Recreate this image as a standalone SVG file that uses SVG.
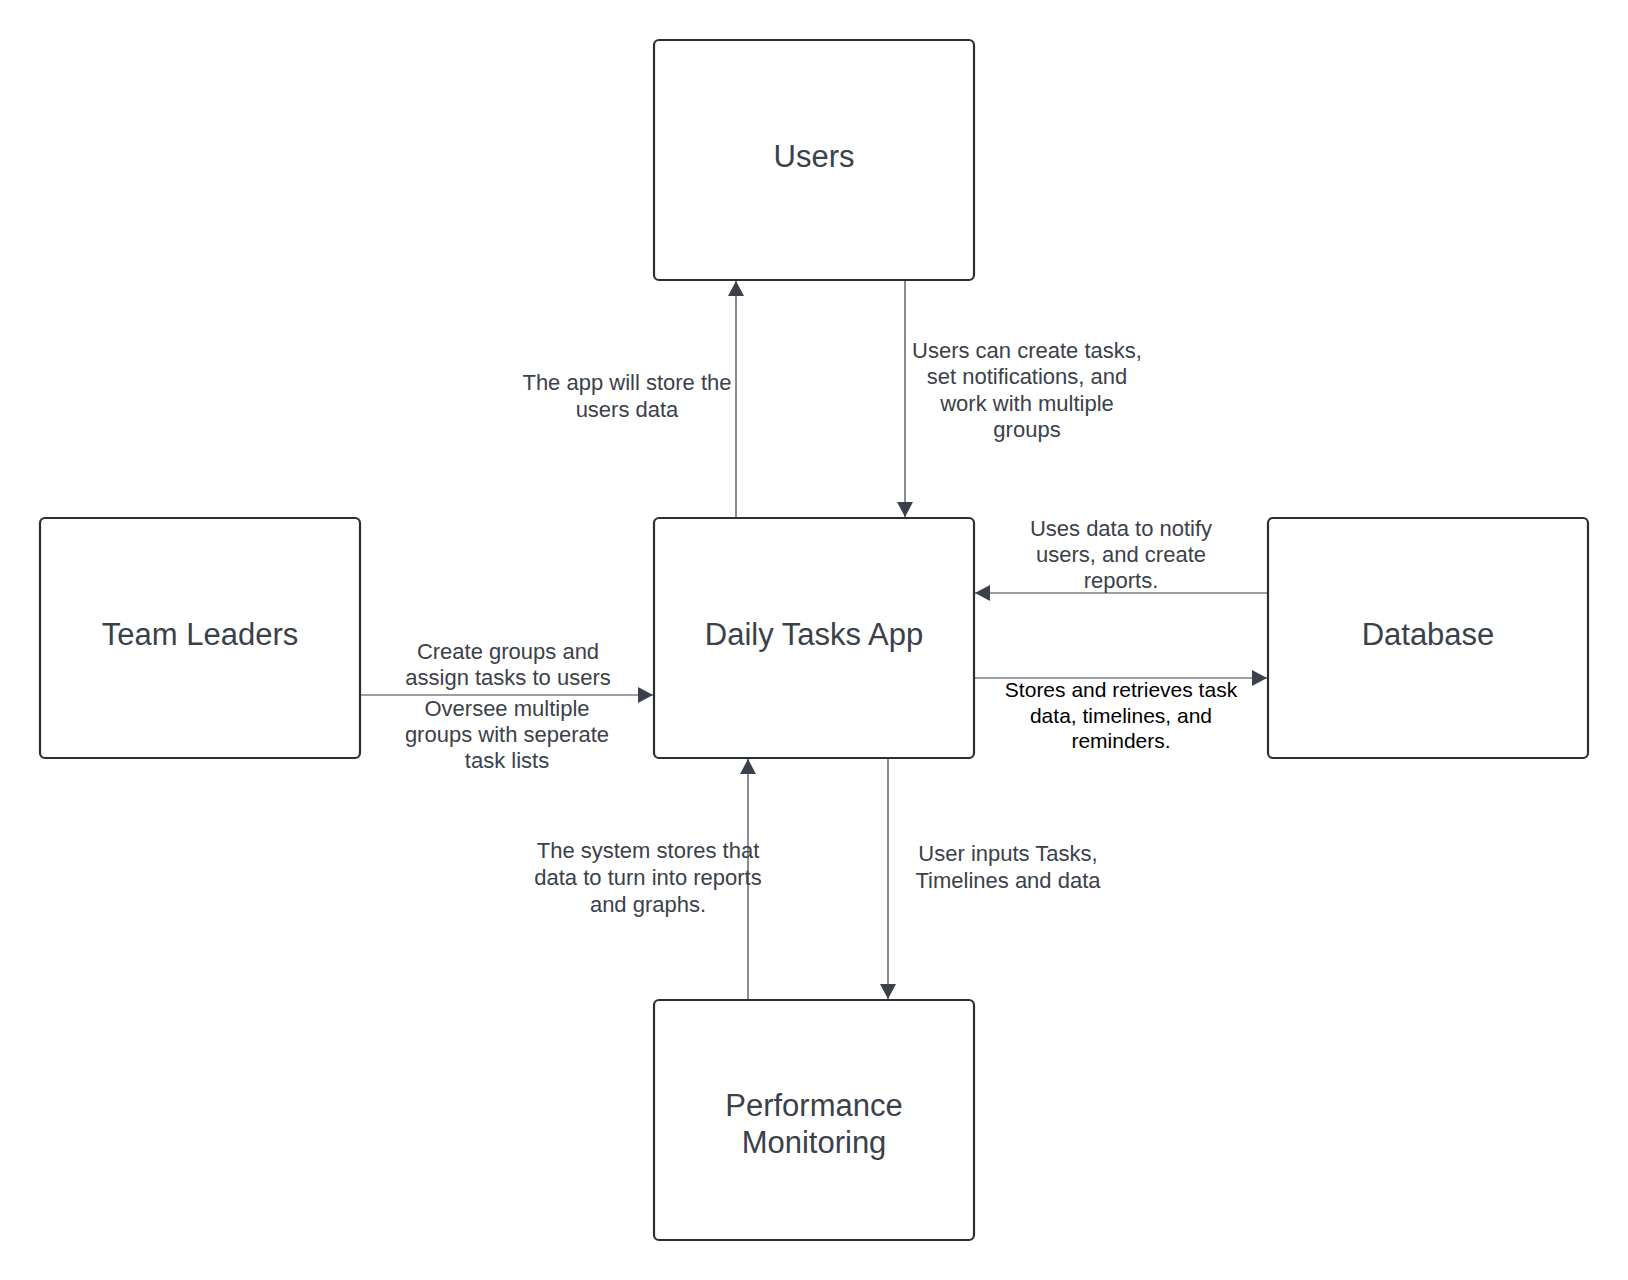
<svg xmlns="http://www.w3.org/2000/svg" width="1628" height="1280" viewBox="0 0 1628 1280">
<style>
.box{fill:#ffffff;stroke:#2a2e35;stroke-width:2.2}
.nt{font-family:"Liberation Sans",Arial,sans-serif;font-size:31px;fill:#3a414a;text-anchor:middle}
.lt{font-family:"Liberation Sans",Arial,sans-serif;font-size:22px;fill:#3a414a;text-anchor:middle}
.lb{font-family:"Liberation Sans",Arial,sans-serif;font-size:21px;fill:#000000;text-anchor:middle}
.cn{fill:none;stroke:#3a414a;stroke-width:1.2}
</style>
<defs>
<marker id="ah" markerUnits="userSpaceOnUse" markerWidth="16" markerHeight="16" refX="15" refY="8" orient="auto">
<path d="M0,0 L15,8 L0,16 Z" fill="#3a414a"/>
</marker>
</defs>
<rect width="1628" height="1280" fill="#ffffff"/>
<g id="connectors">
<line class="cn" x1="736" y1="518" x2="736" y2="281" marker-end="url(#ah)"/>
<line class="cn" x1="905" y1="280" x2="905" y2="517" marker-end="url(#ah)"/>
<line class="cn" x1="1268" y1="593" x2="975" y2="593" marker-end="url(#ah)"/>
<line class="cn" x1="974" y1="678" x2="1267" y2="678" marker-end="url(#ah)"/>
<line class="cn" x1="360" y1="695" x2="653" y2="695" marker-end="url(#ah)"/>
<line class="cn" x1="748" y1="1000" x2="748" y2="759" marker-end="url(#ah)"/>
<line class="cn" x1="888" y1="758" x2="888" y2="999" marker-end="url(#ah)"/>
</g>
<g id="labels">
<text class="lt" x="627" y="390">The app will store the</text>
<text class="lt" x="627" y="417">users data</text>
<text class="lt" x="1027" y="358">Users can create tasks,</text>
<text class="lt" x="1027" y="384">set notifications, and</text>
<text class="lt" x="1027" y="411">work with multiple</text>
<text class="lt" x="1027" y="437">groups</text>
<text class="lt" x="1121" y="536">Uses data to notify</text>
<text class="lt" x="1121" y="562">users, and create</text>
<text class="lt" x="1121" y="588">reports.</text>
<text class="lb" x="1121" y="697">Stores and retrieves task</text>
<text class="lb" x="1121" y="723">data, timelines, and</text>
<text class="lb" x="1121" y="748">reminders.</text>
<text class="lt" x="508" y="659">Create groups and</text>
<text class="lt" x="508" y="685">assign tasks to users</text>
<text class="lt" x="507" y="716">Oversee multiple</text>
<text class="lt" x="507" y="742">groups with seperate</text>
<text class="lt" x="507" y="768">task lists</text>
<text class="lt" x="648" y="858">The system stores that</text>
<text class="lt" x="648" y="885">data to turn into reports</text>
<text class="lt" x="648" y="912">and graphs.</text>
<text class="lt" x="1008" y="861">User inputs Tasks,</text>
<text class="lt" x="1008" y="888">Timelines and data</text>
</g>
<g id="users">
<rect class="box" x="654" y="40" width="320" height="240" rx="5"/>
<text class="nt" x="814" y="167">Users</text>
</g>
<g id="daily-tasks-app">
<rect class="box" x="654" y="518" width="320" height="240" rx="5"/>
<text class="nt" x="814" y="645">Daily Tasks App</text>
</g>
<g id="team-leaders">
<rect class="box" x="40" y="518" width="320" height="240" rx="5"/>
<text class="nt" x="200" y="645">Team Leaders</text>
</g>
<g id="database">
<rect class="box" x="1268" y="518" width="320" height="240" rx="5"/>
<text class="nt" x="1428" y="645">Database</text>
</g>
<g id="performance-monitoring">
<rect class="box" x="654" y="1000" width="320" height="240" rx="5"/>
<text class="nt" x="814" y="1116">Performance</text>
<text class="nt" x="814" y="1153">Monitoring</text>
</g>
</svg>
